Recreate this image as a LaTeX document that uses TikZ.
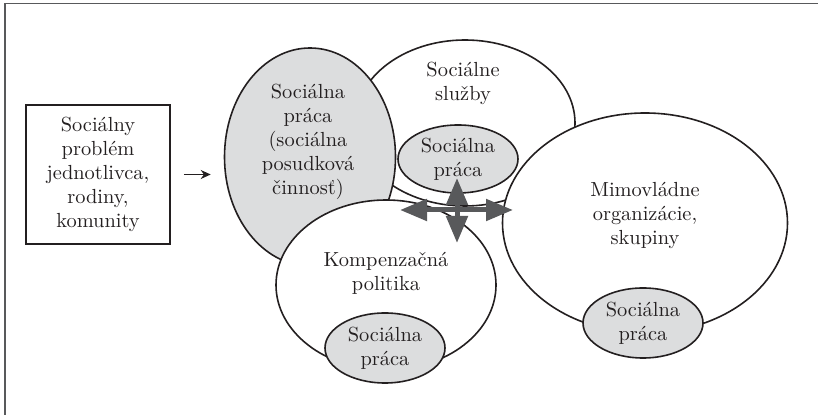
\documentclass[tikz,border=0pt]{standalone}
\usetikzlibrary{shapes.geometric,arrows.meta}
\definecolor{ink}{HTML}{231F20}
\definecolor{ovalgray}{HTML}{DCDDDE}
\definecolor{crossgray}{HTML}{58595B}
\begin{document}
\begin{tikzpicture}[x=0.5pt,y=-0.5pt,
  oval/.style={ellipse,draw=ink,line width=0.8pt,fill=white,inner sep=0pt},
  grayoval/.style={oval,fill=ovalgray},
  txt/.style={align=center,text=ink,font=\fontsize{10.2}{12}\selectfont},
  cross/.style={draw=crossgray,line width=2.5pt,{Triangle[length=13.5pt,width=10.5pt]}-{Triangle[length=13.5pt,width=10.5pt]}}]
\useasboundingbox (0,0) rectangle (818,415);
\draw[crossgray,line width=0.7pt] (5,415) |- (818,3.5);
\node [draw=ink,line width=0.8pt,minimum width=72pt,minimum height=69.5pt,txt] (box) at (98,174.5)
  {Sociálny\\problém\\jednotlivca,\\rodiny,\\komunity};
\node [oval,minimum width=110pt,minimum height=83pt] (svc) at (465,123) {};
\node [txt] (svctext) at (463,83) {Sociálne\\služby};
\node [grayoval,minimum width=85.5pt,minimum height=109pt] (spc) at (310,157) {};
\node [txt] (spctext) at (308,142) {Sociálna\\práca\\(sociálna\\posudková\\činnosť)};
\node [grayoval,minimum width=60pt,minimum height=34pt,txt] (svcsp) at (458,159) {Sociálna\\práca};
\node [oval,minimum width=110pt,minimum height=85pt] (komp) at (386,285) {};
\node [txt] (komptext) at (386,273) {Kompenzačná\\politika};
\node [grayoval,minimum width=60pt,minimum height=35pt,txt] (kompsp) at (385,348) {Sociálna\\práca};
\node [oval,minimum width=142.5pt,minimum height=110pt] (mvo) at (645,223) {};
\node [txt] (mvotext) at (645,215) {Mimovládne\\organizácie,\\skupiny};
\node [grayoval,minimum width=60pt,minimum height=35pt,txt] (mvosp) at (643,323) {Sociálna\\práca};
\coordinate (w) at (400,210);
\coordinate (e) at (513,210);
\coordinate (n) at (457,178);
\coordinate (s) at (457,243);
\draw[cross] (w) -- (e);
\draw[cross] (n) -- (s);
\draw[ink,line width=0.7pt,-{Stealth[length=5pt,width=4.5pt]},shorten <=6.5pt,shorten >=6.5pt]
  (box.east) -- (box.east -| spc.west);
\end{tikzpicture}
\end{document}
